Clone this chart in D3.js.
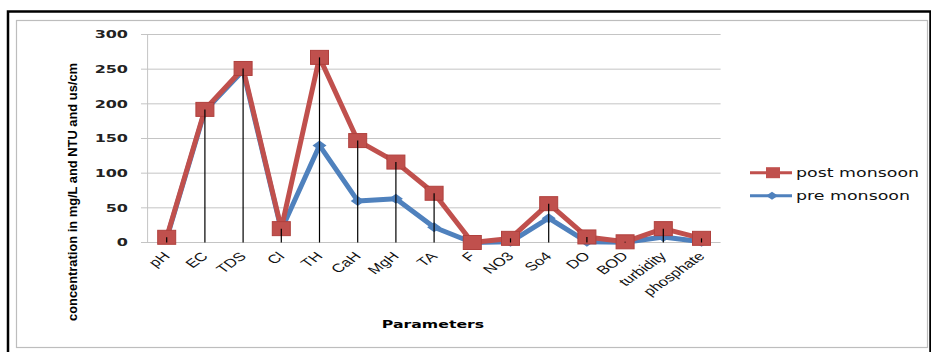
<!DOCTYPE html>
<html><head><meta charset="utf-8">
<script src="https://cdn.jsdelivr.net/npm/d3@7"></script>
<style>body{margin:0;background:#fff}svg{display:block}</style>
</head><body>
<svg id="c" width="931" height="352"></svg>
<script>
const categories = ["pH","EC","TDS","Cl","TH","CaH","MgH","TA","F","NO3","So4","DO","BOD","turbidity","phosphate"];
const postMonsoon = [7.5,192,251,20,267,147,116,71,0,6,56,8,1,20,6];
const preMonsoon  = [6,190,248,18,140,60,63,22,0,1,35,1,0.5,8,1];
const yTicks = [0,50,100,150,200,250,300];
const seriesNames = ["post monsoon","pre monsoon"];

const RED = "#C0504D", BLUE = "#4F81BD";
const svg = d3.select("#c");

// frames
svg.append("rect").attr("x",8).attr("y",11.5).attr("width",922.5).attr("height",360)
  .attr("fill","none").attr("stroke","#000").attr("stroke-width",2.5);
svg.append("rect").attr("x",16.5).attr("y",20.5).attr("width",911).attr("height",327)
  .attr("fill","none").attr("stroke","#bdbdbd").attr("stroke-width",1.2);

const x = d3.scaleBand().domain(categories).range([147.6,720.6]);
const y = d3.scaleLinear().domain([0,300]).range([242.5,34.5]);
const cx = d => x(d) + x.bandwidth()/2;

// gridlines
svg.append("g").selectAll("line").data(yTicks).join("line")
  .attr("x1",141).attr("x2",720.6).attr("y1",d=>y(d)).attr("y2",d=>y(d))
  .attr("stroke","#c4c4c4").attr("stroke-width",1);
// y axis line
svg.append("line").attr("x1",147.6).attr("x2",147.6).attr("y1",y(300)).attr("y2",y(0))
  .attr("stroke","#c4c4c4").attr("stroke-width",1);

// y tick labels
svg.append("g").selectAll("text").data(yTicks).join("text")
  .attr("transform",d=>`translate(128,${y(d)+3.8}) scale(1.6,1)`)
  .attr("text-anchor","end")
  .attr("font-family","DejaVu Sans").attr("font-size",10).attr("font-weight","bold")
  .attr("fill","#222").text(d=>d);

// x labels
const xl = svg.append("g").selectAll("g").data(categories).join("g")
  .attr("transform",d=>"translate(" + (cx(d)+4) + ",257) scale(1.4,1)");
xl.append("text")
  .attr("transform","rotate(-45)")
  .attr("text-anchor","end")
  .attr("font-family","Liberation Sans").attr("font-size",12)
  .attr("fill","#111").text(d=>d);

// lines
const line = d3.line().x((d,i)=>cx(categories[i])).y(d=>y(d));
svg.append("path").datum(preMonsoon).attr("d",line).attr("fill","none")
  .attr("stroke",BLUE).attr("stroke-width",5).attr("stroke-linejoin","round");
svg.append("g").selectAll("path").data(preMonsoon).join("path")
  .attr("d",(d,i)=>{const px=cx(categories[i]),py=y(d);return `M${px-7},${py}L${px},${py-5}L${px+7},${py}L${px},${py+5}Z`;})
  .attr("fill",BLUE);
svg.append("path").datum(postMonsoon).attr("d",line).attr("fill","none")
  .attr("stroke",RED).attr("stroke-width",5).attr("stroke-linejoin","round");
svg.append("g").selectAll("rect").data(postMonsoon).join("rect")
  .attr("x",(d,i)=>cx(categories[i])-9).attr("y",d=>y(d)-7)
  .attr("width",18).attr("height",14).attr("fill",RED)
  .attr("stroke","#b0403d").attr("stroke-width",1);

// drop lines
svg.append("g").selectAll("line").data(categories).join("line")
  .attr("x1",d=>cx(d)).attr("x2",d=>cx(d))
  .attr("y1",(d,i)=>y(Math.max(postMonsoon[i],preMonsoon[i]))).attr("y2",y(0))
  .attr("stroke","#000").attr("stroke-width",1.2);

// axis titles
svg.append("text").attr("transform","translate(77,192) rotate(-90)")
  .attr("text-anchor","middle").attr("font-family","Liberation Sans")
  .attr("font-weight","bold").attr("font-size",12.5)
  .attr("textLength",258).attr("lengthAdjust","spacingAndGlyphs")
  .text("concentration in mg/L and NTU and us/cm");
svg.append("text").attr("transform","translate(433,328) scale(1.43,1)")
  .attr("text-anchor","middle").attr("font-family","DejaVu Sans")
  .attr("font-weight","bold").attr("font-size",11).text("Parameters");

// legend
const lg = svg.append("g");
const ly = [172.7,195.7];
lg.selectAll("line").data(seriesNames).join("line")
  .attr("x1",750).attr("x2",792).attr("y1",(d,i)=>ly[i]).attr("y2",(d,i)=>ly[i])
  .attr("stroke",(d,i)=>i?BLUE:RED).attr("stroke-width",3);
lg.append("rect").attr("x",766).attr("y",ly[0]-5.5).attr("width",14).attr("height",11).attr("fill",RED);
lg.append("path").attr("d",`M766,${ly[1]}L772,${ly[1]-4}L778,${ly[1]}L772,${ly[1]+4}Z`).attr("fill",BLUE);
lg.selectAll("text").data(seriesNames).join("text")
  .attr("transform",(d,i)=>`translate(796,${ly[i]+4.5}) scale(1.45,1)`)
  .attr("font-family","DejaVu Sans").attr("font-size",12).attr("fill","#111").text(d=>d);
</script>
</body></html>
